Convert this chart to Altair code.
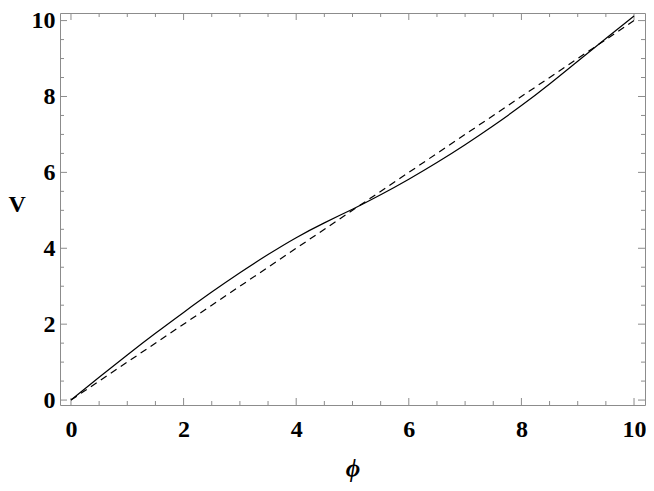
import altair as alt
import pandas as pd

# Data
phi = [0, 0.5, 1, 1.5, 2, 2.5, 3, 3.5, 4, 4.5, 5, 5.5, 6, 6.5, 7, 7.5, 8, 8.5, 9, 9.5, 10]
V = [0, 0.60, 1.19, 1.76, 2.31, 2.845, 3.355, 3.835, 4.28, 4.67, 5.03, 5.41, 5.82, 6.26,
     6.73, 7.23, 7.76, 8.33, 8.93, 9.53, 10.12]
ref_phi = [0, 10]
ref_V = [0, 10]

major_ticks = [0, 2, 4, 6, 8, 10]
minor_ticks = [0.5, 1, 1.5, 2.5, 3, 3.5, 4.5, 5, 5.5, 6.5, 7, 7.5, 8.5, 9, 9.5]

W, H = 585, 392
FONT = "Liberation Serif"
FRAME = "#8c8c8c"

xscale = alt.Scale(domain=[-0.195, 10.195], nice=False, zero=False)
yscale = alt.Scale(domain=[-0.13, 10.2], nice=False, zero=False)

xaxis = alt.Axis(values=major_ticks, title="ϕ", titleFont=FONT, titleFontSize=25,
                 titleFontStyle="italic", titleFontWeight="bold", titleColor="black",
                 titleBaseline="alphabetic", titleY=71,
                 labelPadding=12, ticks=False, tickSize=0, domain=False, grid=False,
                 labelFont=FONT, labelFontSize=24, labelFontWeight="bold",
                 labelColor="black", labelFlush=False)
yaxis = alt.Axis(values=major_ticks, title="V", titleFont=FONT, titleFontSize=24,
                 titleFontWeight="bold", titleColor="black", titleAngle=0,
                 titleAlign="left", titleBaseline="alphabetic", titleX=-52, titleY=198,
                 labelPadding=5, ticks=False, tickSize=0, domain=False, grid=False,
                 labelFont=FONT, labelFontSize=24, labelFontWeight="bold",
                 labelColor="black")

curve = pd.DataFrame({"phi": phi, "V": V})
ref = pd.DataFrame({"phi": ref_phi, "V": ref_V})
ticks = pd.DataFrame({"v": major_ticks + minor_ticks,
                      "kind": ["major"] * len(major_ticks) + ["minor"] * len(minor_ticks)})

solid = alt.Chart(curve).mark_line(color="black", strokeWidth=1.2, interpolate="natural").encode(
    x=alt.X("phi:Q", scale=xscale, axis=xaxis),
    y=alt.Y("V:Q", scale=yscale, axis=yaxis),
)

dashed = alt.Chart(ref).mark_line(color="black", strokeWidth=1.2, strokeDash=[7, 5]).encode(
    x=alt.X("phi:Q", scale=xscale, axis=xaxis),
    y=alt.Y("V:Q", scale=yscale, axis=yaxis),
)


def tick_layers(kind, length):
    base = alt.Chart(ticks).transform_filter(alt.datum.kind == kind).mark_rule(
        color=FRAME, strokeWidth=1)
    bottom = base.encode(x=alt.X("v:Q", scale=xscale, axis=xaxis),
                         y=alt.value(H), y2=alt.value(H - length))
    top = base.encode(x=alt.X("v:Q", scale=xscale, axis=xaxis),
                      y=alt.value(0), y2=alt.value(length))
    left = base.encode(y=alt.Y("v:Q", scale=yscale, axis=yaxis),
                       x=alt.value(0), x2=alt.value(length))
    right = base.encode(y=alt.Y("v:Q", scale=yscale, axis=yaxis),
                        x=alt.value(W), x2=alt.value(W - length))
    return [bottom, top, left, right]


layers = tick_layers("major", 7) + tick_layers("minor", 4) + [dashed, solid]

chart = alt.layer(*layers).properties(
    width=W, height=H,
    autosize=alt.AutoSizeParams(type="none"),
    padding={"left": 52, "top": 5, "right": 1, "bottom": 78},
).configure(
    background="white"
).configure_view(
    stroke=FRAME, strokeWidth=1
)

chart.save("out.html", embed_options={"renderer": "svg", "actions": False})
